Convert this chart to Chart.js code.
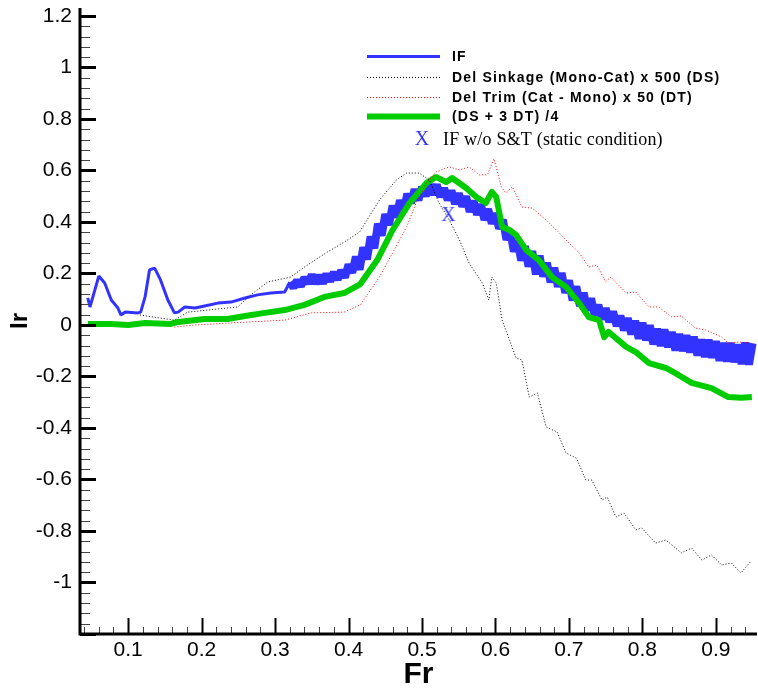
<!DOCTYPE html>
<html lang="en">
<head>
<meta charset="UTF-8">
<title>IF vs Fr</title>
<script src="https://cdn.jsdelivr.net/npm/chart.js"></script>
<style>
    html, body { margin: 0; padding: 0; background: #fff; }
    #wrap { width: 758px; height: 691px; }
</style>
</head>
<body>
<div id="wrap"><canvas id="chart" width="758" height="691"></canvas></div>

<script>
// axis ticks
const xTickVals = [0.1, 0.2, 0.3, 0.4, 0.5, 0.6, 0.7, 0.8, 0.9];
const yTickVals = [-1, -0.8, -0.6, -0.4, -0.2, 0, 0.2, 0.4, 0.6, 0.8, 1, 1.2];

// IF (measured, noisy above Fr ~0.32)
const ifFr = [0.045, 0.048, 0.060, 0.068, 0.077, 0.086, 0.090, 0.096, 0.113, 0.117, 0.123, 0.129, 0.136,
    0.144, 0.154, 0.163, 0.168, 0.177, 0.191, 0.204, 0.222, 0.240, 0.259, 0.276, 0.294, 0.313,
    0.320, 0.325, 0.330, 0.335, 0.340, 0.345, 0.350, 0.355, 0.360, 0.365, 0.370, 0.375, 0.380, 0.385,
    0.390, 0.395, 0.400, 0.405, 0.410, 0.415, 0.420, 0.425, 0.430, 0.435, 0.440, 0.445, 0.450, 0.455,
    0.460, 0.465, 0.470, 0.475, 0.480, 0.485, 0.490, 0.495, 0.500, 0.505, 0.510, 0.515, 0.520, 0.525,
    0.530, 0.535, 0.540, 0.545, 0.550, 0.555, 0.560, 0.565, 0.570, 0.575, 0.580, 0.585, 0.590, 0.595,
    0.600, 0.605, 0.610, 0.615, 0.620, 0.625, 0.630, 0.635, 0.640, 0.645, 0.650, 0.655, 0.660, 0.665,
    0.670, 0.675, 0.680, 0.685, 0.690, 0.695, 0.700, 0.705, 0.710, 0.715, 0.720, 0.725, 0.730, 0.735,
    0.740, 0.745, 0.750, 0.755, 0.760, 0.765, 0.770, 0.775, 0.780, 0.785, 0.790, 0.795, 0.800, 0.805,
    0.810, 0.815, 0.820, 0.825, 0.830, 0.835, 0.840, 0.845, 0.850, 0.855, 0.860, 0.865, 0.870, 0.875,
    0.880, 0.885, 0.890, 0.895, 0.900, 0.905, 0.910, 0.915, 0.920, 0.925, 0.930, 0.935, 0.940, 0.945, 0.950];
const ifVal = [0.105, 0.070, 0.190, 0.163, 0.097, 0.066, 0.039, 0.050, 0.047, 0.050, 0.109, 0.214, 0.221,
    0.175, 0.097, 0.047, 0.050, 0.070, 0.066, 0.074, 0.085, 0.089, 0.105, 0.117, 0.124, 0.128,
    0.166, 0.146, 0.173, 0.151, 0.184, 0.162, 0.195, 0.161, 0.193, 0.162, 0.198, 0.170, 0.205, 0.177,
    0.212, 0.185, 0.234, 0.203, 0.265, 0.215, 0.301, 0.255, 0.343, 0.298, 0.393, 0.347, 0.430, 0.388,
    0.463, 0.418, 0.484, 0.446, 0.509, 0.474, 0.527, 0.485, 0.536, 0.501, 0.545, 0.506, 0.545, 0.498,
    0.531, 0.485, 0.522, 0.470, 0.511, 0.460, 0.499, 0.440, 0.482, 0.428, 0.469, 0.408, 0.450, 0.394,
    0.433, 0.374, 0.409, 0.331, 0.366, 0.285, 0.328, 0.250, 0.306, 0.227, 0.287, 0.197, 0.269, 0.188,
    0.242, 0.166, 0.222, 0.149, 0.202, 0.125, 0.173, 0.096, 0.150, 0.074, 0.125, 0.057, 0.103, 0.039,
    0.078, 0.022, 0.065, 0.012, 0.052, -0.004, 0.036, -0.021, 0.027, -0.036, 0.016, -0.053, 0.008, -0.059,
    -0.001, -0.075, -0.015, -0.081, -0.018, -0.086, -0.027, -0.099, -0.035, -0.101, -0.040, -0.106, -0.046, -0.118,
    -0.057, -0.124, -0.058, -0.127, -0.063, -0.139, -0.070, -0.142, -0.070, -0.144, -0.076, -0.152, -0.069, -0.154, -0.071];

// Del Sinkage (Mono-Cat) x 500
const dsFr = [0.116, 0.143, 0.163, 0.181, 0.249, 0.267, 0.290, 0.321, 0.344, 0.371, 0.394, 0.415, 0.442,
    0.465, 0.479, 0.496, 0.510, 0.523, 0.537, 0.551, 0.564, 0.582, 0.591, 0.595, 0.601, 0.609, 0.619,
    0.628, 0.636, 0.646, 0.657, 0.669, 0.684, 0.696, 0.710, 0.723, 0.731, 0.745, 0.752, 0.764, 0.775,
    0.791, 0.799, 0.818, 0.832, 0.853, 0.867, 0.881, 0.894, 0.908, 0.921, 0.934, 0.947];
const dsVal = [0.039, 0.027, 0.019, 0.050, 0.070, 0.117, 0.167, 0.186, 0.233, 0.283, 0.322, 0.361, 0.485,
    0.563, 0.590, 0.590, 0.563, 0.474, 0.408, 0.330, 0.241, 0.163, 0.097, 0.186, 0.163, 0.019, -0.058,
    -0.128, -0.136, -0.280, -0.264, -0.396, -0.416, -0.497, -0.517, -0.602, -0.602, -0.680, -0.668, -0.746, -0.730,
    -0.796, -0.788, -0.847, -0.835, -0.885, -0.866, -0.913, -0.893, -0.932, -0.924, -0.963, -0.920];

// Del Trim (Cat - Mono) x 50
const dtFr = [0.163, 0.191, 0.240, 0.313, 0.349, 0.394, 0.416, 0.428, 0.442, 0.460, 0.479, 0.492, 0.506,
    0.519, 0.537, 0.551, 0.564, 0.578, 0.589, 0.598, 0.608, 0.614, 0.623, 0.636, 0.650, 0.669, 0.687,
    0.696, 0.714, 0.727, 0.738, 0.750, 0.757, 0.778, 0.791, 0.809, 0.822, 0.840, 0.853, 0.872, 0.886,
    0.908, 0.917, 0.931, 0.945];
const dtVal = [-0.008, 0.000, 0.008, 0.019, 0.047, 0.050, 0.078, 0.128, 0.186, 0.280, 0.381, 0.474, 0.551,
    0.594, 0.614, 0.602, 0.614, 0.583, 0.583, 0.645, 0.536, 0.513, 0.536, 0.458, 0.454, 0.408, 0.357,
    0.330, 0.280, 0.225, 0.233, 0.167, 0.186, 0.124, 0.128, 0.070, 0.070, 0.031, 0.035, -0.012, -0.019,
    -0.047, -0.070, -0.066, -0.070];

// (DS + 3 DT) / 4
const mixFr = [0.045, 0.077, 0.100, 0.123, 0.158, 0.168, 0.204, 0.235, 0.259, 0.286, 0.313, 0.340, 0.367,
    0.394, 0.416, 0.439, 0.460, 0.483, 0.506, 0.519, 0.533, 0.541, 0.560, 0.574, 0.587, 0.595, 0.601,
    0.609, 0.619, 0.628, 0.642, 0.659, 0.677, 0.696, 0.714, 0.727, 0.741, 0.748, 0.754, 0.778, 0.791,
    0.809, 0.832, 0.849, 0.867, 0.894, 0.917, 0.935, 0.949];
const mixVal = [0.004, 0.004, 0.000, 0.008, 0.004, 0.012, 0.023, 0.023, 0.035, 0.047, 0.058, 0.078, 0.109,
    0.124, 0.159, 0.252, 0.369, 0.474, 0.551, 0.575, 0.555, 0.571, 0.532, 0.497, 0.474, 0.517, 0.497,
    0.381, 0.369, 0.350, 0.291, 0.252, 0.186, 0.148, 0.085, 0.031, 0.019, -0.047, -0.027, -0.085, -0.105,
    -0.148, -0.167, -0.194, -0.225, -0.245, -0.280, -0.283, -0.280];

// IF without sinkage & trim
const staticFr = [0.536];
const staticVal = [0.427];

const legendLabels = ['IF', 'Del Sinkage (Mono-Cat) x 500 (DS)', 'Del Trim (Cat - Mono) x 50 (DT)', '(DS + 3 DT) /4'];
const staticLabel = 'IF w/o S&T (static condition)';

const BLUE = 'rgb(51, 51, 255)';
const GREEN = 'rgb(0, 204, 0)';

function pts(xs, ys) {
    return xs.map((x, i) => ({ x: x, y: ys[i] }));
}

// serif "X" used as the marker glyph
function xGlyph(size) {
    const c = document.createElement('canvas');
    c.width = size; c.height = size;
    const g = c.getContext('2d');
    g.fillStyle = BLUE;
    g.font = size + 'px "Liberation Serif"';
    g.textAlign = 'center';
    g.textBaseline = 'middle';
    g.fillText('X', size / 2, size / 2 + 1);
    return c;
}
const markX = xGlyph(20);

// tecplot-style ticks pointing into the plot, plus axis lines
const innerTicks = {
    id: 'innerTicks',
    afterDraw(chart) {
        const { ctx, chartArea: a, scales: { x, y } } = chart;
        ctx.save();
        for (let i = -30; i <= 30; i++) {
            const py = Math.round(y.getPixelForValue(i * 0.04)) + 0.5;
            if (py < a.top) continue;
            const major = i % 5 === 0;
            ctx.lineWidth = major ? 3 : 1;
            ctx.strokeStyle = major ? '#000' : '#444';
            ctx.beginPath();
            ctx.moveTo(a.left, py);
            ctx.lineTo(a.left + (major ? 16 : 10), py);
            ctx.stroke();
        }
        for (let i = 2; i <= 47; i++) {
            const px = Math.round(x.getPixelForValue(i * 0.02)) + 0.5;
            if (px > a.right) continue;
            const major = i % 5 === 0;
            ctx.lineWidth = major ? 2 : 1;
            ctx.strokeStyle = major ? '#000' : '#444';
            ctx.beginPath();
            ctx.moveTo(px, a.bottom);
            ctx.lineTo(px, a.bottom - (major ? 16 : 7));
            ctx.stroke();
        }
        ctx.lineWidth = 3;
        ctx.strokeStyle = '#000';
        ctx.beginPath();
        ctx.moveTo(a.left, a.top);
        ctx.lineTo(a.left, a.bottom);
        ctx.lineTo(a.right, a.bottom);
        ctx.stroke();
        ctx.restore();
    }
};

// legend box inside the plot
const plotLegend = {
    id: 'plotLegend',
    afterDraw(chart) {
        const ctx = chart.ctx;
        const ds = chart.data.datasets;
        const sets = [ds[4], ds[2], ds[1], ds[3]];
        const widths = [3, 1, 1, 6];
        const rowY = [56, 77, 97, 116];
        ctx.save();
        ctx.textBaseline = 'middle';
        ctx.textAlign = 'left';
        sets.forEach((d, i) => {
            ctx.strokeStyle = d.borderColor;
            ctx.lineWidth = widths[i];
            ctx.setLineDash(d.borderDash || []);
            ctx.beginPath();
            ctx.moveTo(367, rowY[i] + 0.5);
            ctx.lineTo(440, rowY[i] + 0.5);
            ctx.stroke();
            ctx.setLineDash([]);
            ctx.fillStyle = '#000';
            ctx.font = 'bold 14px "Liberation Sans"';
            ctx.letterSpacing = '1.2px';
            ctx.fillText(legendLabels[i], 452, rowY[i] + 1);
        });
        ctx.letterSpacing = '0.2px';
        ctx.drawImage(markX, 422 - 10, 139 - 10);
        ctx.fillStyle = '#000';
        ctx.font = '18px "Liberation Serif"';
        ctx.fillText(staticLabel, 443, 140);
        ctx.restore();
    }
};

const fmt = v => String(Number(v.toFixed(2)));

new Chart(document.getElementById('chart'), {
    type: 'scatter',
    data: {
        datasets: [
            {
                label: staticLabel,
                data: pts(staticFr, staticVal),
                pointStyle: markX,
                pointRadius: 10,
                showLine: false,
                order: 0
            },
            {
                label: legendLabels[2],
                data: pts(dtFr, dtVal),
                showLine: true,
                borderColor: 'rgb(255, 0, 0)',
                borderWidth: 1,
                borderDash: [1, 2],
                pointRadius: 0,
                order: 1
            },
            {
                label: legendLabels[1],
                data: pts(dsFr, dsVal),
                showLine: true,
                borderColor: '#000',
                borderWidth: 1,
                borderDash: [1, 2],
                pointRadius: 0,
                order: 2
            },
            {
                label: legendLabels[3],
                data: pts(mixFr, mixVal),
                showLine: true,
                borderColor: GREEN,
                borderWidth: 6,
                borderJoinStyle: 'round',
                pointRadius: 0,
                order: 3
            },
            {
                label: legendLabels[0],
                data: pts(ifFr, ifVal),
                showLine: true,
                borderColor: BLUE,
                borderWidth: 3,
                borderJoinStyle: 'bevel',
                // the scatter above Fr 0.32 shows as a wide band
                segment: { borderWidth: c => (c.p0.parsed.x >= 0.319 ? 8 : 3) },
                pointRadius: 0,
                order: 4
            }
        ]
    },
    options: {
        responsive: false,
        animation: false,
        layout: {
            autoPadding: false,
            padding: { top: 8, right: 1, left: 0, bottom: 0 }
        },
        plugins: {
            legend: { display: false },
            tooltip: { enabled: false }
        },
        scales: {
            x: {
                type: 'linear',
                min: 0.0344,
                max: 0.956,
                grid: { display: false, drawTicks: false },
                border: { display: false },
                afterBuildTicks: s => { s.ticks = xTickVals.map(v => ({ value: v })); },
                afterFit: s => { s.height = 57; s.paddingLeft = 0; s.paddingRight = 0; },
                ticks: {
                    color: '#000',
                    padding: 4,
                    maxRotation: 0,
                    autoSkip: false,
                    font: { family: 'Liberation Sans', size: 21 },
                    callback: fmt
                },
                title: {
                    display: true,
                    text: 'Fr',
                    color: '#000',
                    padding: { top: 0, bottom: -2 },
                    font: { family: 'Liberation Sans', size: 30, weight: 'bold' }
                }
            },
            y: {
                type: 'linear',
                min: -1.2,
                max: 1.231,
                grid: { display: false, drawTicks: false },
                border: { display: false },
                afterBuildTicks: s => { s.ticks = yTickVals.map(v => ({ value: v })); },
                afterFit: s => { s.width = 80; s.paddingTop = 0; s.paddingBottom = 0; },
                ticks: {
                    color: '#000',
                    padding: 8,
                    autoSkip: false,
                    font: { family: 'Liberation Sans', size: 21 },
                    callback: fmt
                },
                title: {
                    display: true,
                    text: 'Ir',
                    color: '#000',
                    padding: { top: 6, bottom: 0 },
                    font: { family: 'Liberation Sans', size: 24, weight: 'bold' }
                }
            }
        }
    },
    plugins: [innerTicks, plotLegend]
});
</script>
</body>
</html>
